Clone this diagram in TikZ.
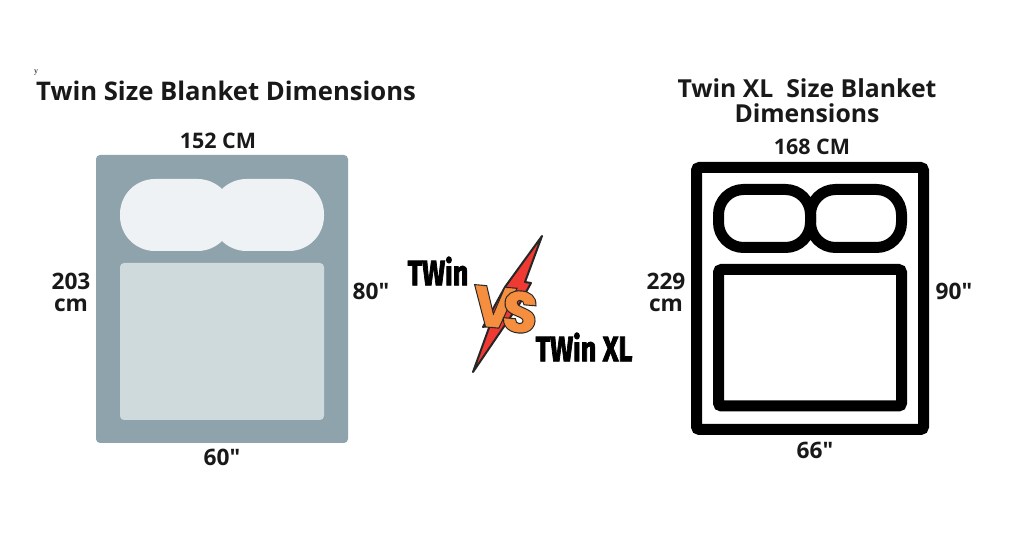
\documentclass[tikz,border=0pt]{standalone}
\usepackage{fontspec}
\newfontfamily\labelfont{Open Sans}
\newfontfamily\markfont{Liberation Serif}
\newfontfamily\handfont[FakeBold=2.6]{Fira Sans}
\newfontfamily\vsfont[FakeBold=1]{Poppins}
\newfontfamily\vsedge[FakeBold=5]{Poppins}
\tikzset{
  title/.style={font=\labelfont\fontsize{14.6}{14.2}\bfseries, align=center, text=black!90},
  size/.style={font=\labelfont\fontsize{12.2}{12.6}\bfseries, align=center, text=black!90},
  sideSize/.style={font=\labelfont\fontsize{12.9}{12.6}\bfseries, align=center, text=black!90},
  hand/.style={font=\handfont\fontsize{15.4}{15.4}\bfseries, text=black, yscale=1.3},
  blackbox/.style={draw=black, line width=0.22cm, rounded corners=0.06cm},
  blackpillow/.style={draw=black, line width=0.22cm, rounded corners=0.5cm}
}
\definecolor{bedgrey}{HTML}{8FA3AC}
\definecolor{pillowgrey}{HTML}{EEF2F4}
\definecolor{sheetgrey}{HTML}{CFDADD}
\definecolor{boltred}{HTML}{EE3A33}
\definecolor{vsorange}{HTML}{F58E3F}
\begin{document}
\begin{tikzpicture}[x=0.02cm,y=-0.02cm]
\useasboundingbox[fill=white] (0,0) rectangle (1024,536);

% twin
\node[font=\markfont\fontsize{4.5}{5}\selectfont] (mark) at (36,73) {y};
\node[title,anchor=west] (titleA) at (30,91) {Twin Size Blanket Dimensions};
\node[size] (topA) at (218,141) {152 CM};
\fill[bedgrey,rounded corners=0.08cm] (96,155) rectangle (348,443);
\fill[pillowgrey,rounded corners=0.7cm] (120,179) rectangle (232.5,251);
\fill[pillowgrey,rounded corners=0.7cm] (211.5,179) rectangle (324,251);
\fill[sheetgrey,rounded corners=0.08cm] (120,263) rectangle (324,420);
\node[sideSize] (leftA) at (71,292) {203\\cm};
\node[sideSize] (rightA) at (371,291) {80"};
\node[sideSize] (bottomA) at (222,457) {60"};

% twin xl
\node[title,font=\labelfont\fontsize{14.1}{14.2}\bfseries] (titleB) at (807,101) {Twin XL\ \ Size Blanket\\Dimensions};
\node[size] (topB) at (812,147) {168 CM};
\draw[blackbox] (696.5,167.5) rectangle (923.5,429.5);
\draw[blackpillow] (718.5,189.5) rectangle (810.5,247.5);
\draw[blackpillow] (810.5,189.5) rectangle (901.5,247.5);
\draw[blackbox] (718.5,269.5) rectangle (901.5,406);
\node[sideSize] (leftB) at (666,292) {229\\cm};
\node[sideSize] (rightB) at (954,291) {90"};
\node[sideSize] (bottomB) at (815,450) {66"};

% versus
\filldraw[fill=boltred,draw=black!85,line width=0.04cm,line join=round]
  (542,236) -- (525,282) -- (531,283) -- (520,303) -- (473,372) -- (490,325) -- (483,327) -- (505,287) -- cycle;
\node[hand] (twinA) at (438,271) {TWin};
\node[hand] (twinB) at (584,347) {TWin XL};
\node[text=black!85,font=\vsedge\fontsize{32}{32}\bfseries,rotate=-5] (edgeV) at (494,307) {V};
\node[text=vsorange,font=\vsfont\fontsize{32}{32}\bfseries,rotate=-5] (fillV) at (494,307) {V};
\node[text=black!85,font=\vsedge\fontsize{32}{32}\bfseries,rotate=-5] (edgeS) at (520,312) {S};
\node[text=vsorange,font=\vsfont\fontsize{32}{32}\bfseries,rotate=-5] (fillS) at (520,312) {S};
\end{tikzpicture}
\end{document}
